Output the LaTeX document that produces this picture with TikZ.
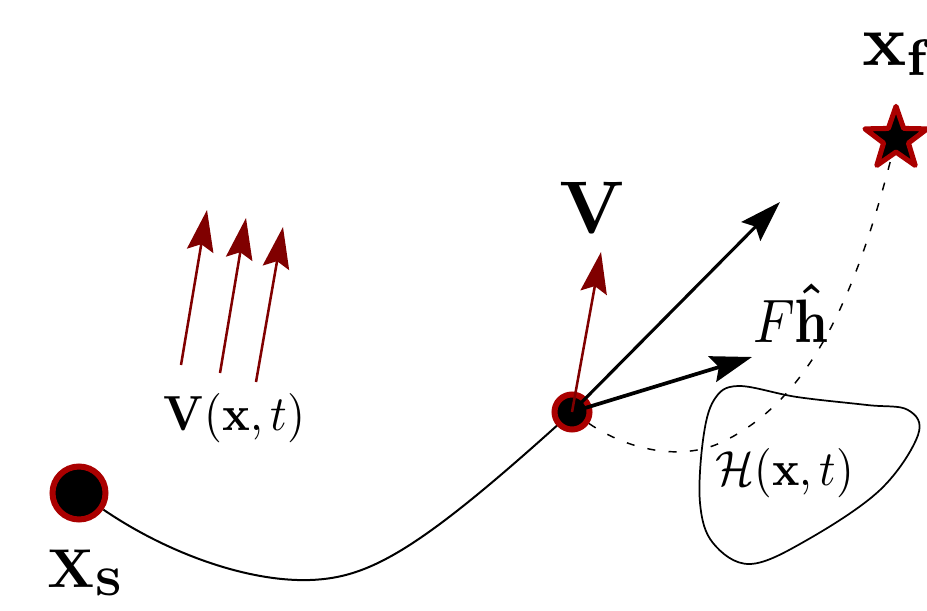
\documentclass[tikz,border=0pt]{standalone}
\usetikzlibrary{arrows.meta,shapes.geometric,backgrounds}
\definecolor{ringred}{RGB}{170,0,0}
\definecolor{vecred}{RGB}{128,0,0}
\begin{document}
\begin{tikzpicture}[x=0.75pt,y=-0.75pt,
  dot/.style={circle,fill=black,draw=ringred,line width=4.5pt,inner sep=0pt},
  goal/.style={star,star points=5,star point ratio=2.5,fill=black,draw=ringred,line width=3.8pt,line join=round,inner sep=0pt,minimum size=49pt},
  headtip/.style={-{Stealth[length=31pt,width=20pt,inset=5pt]}},
  blackvec/.style={headtip,line width=2.3pt},
  redvec/.style={headtip,draw=vecred,line width=1.9pt},
  lbl/.style={inner sep=0pt,anchor=base west},
  trajline/.style={line width=1.5pt},
  dashline/.style={line width=1.1pt,dash pattern=on 6pt off 10pt},
  blob/.style={line width=1.3pt}
]
\useasboundingbox (0,0) rectangle (927,610);
\node[dot,minimum size=39.75pt] (s) at (79,493) {};
\node[dot,minimum size=26.25pt] (m) at (572,412) {};
\node[goal] (f) at (896,139) {};
\begin{scope}[on background layer]
  \draw[trajline] (s) .. controls (170,555) and (250,582) .. (310,580)
     .. controls (370,578) and (420,550) .. (m.center);
  \draw[dashline] (m) .. controls (628,450) and (680,461) .. (720,443)
     .. controls (819,398) and (863,272) .. (f.center);
\end{scope}
\draw[blob] plot[smooth cycle, tension=0.6] coordinates {(700,503) (703,440) (714,400) (738,386) (797,397) (867,405) (908,410) (918,435) (880,490) (807,540) (750,564) (713,543)};
\coordinate (t1) at (780,202);
\coordinate (t2) at (752,357);
\coordinate (t3) at (601,252);
\draw[blackvec] (m.center) -- (t1);
\draw[blackvec,line width=2.8pt] (m.center) -- (t2);
\draw[redvec] (m.center) -- (t3);
\coordinate (r1a) at (181,365); \coordinate (r1b) at (207,210);
\coordinate (r2a) at (220,373); \coordinate (r2b) at (246,218);
\coordinate (r3a) at (256,382); \coordinate (r3b) at (283,227);
\draw[redvec] (r1a) -- (r1b);
\draw[redvec] (r2a) -- (r2b);
\draw[redvec] (r3a) -- (r3b);
\node[lbl,xscale=3.45,yscale=3.7] (vlabel) at (163,430) {$\mathbf{V}(\mathbf{x},t)$};
\node[lbl,xscale=3.4,yscale=3.7] (hlabel) at (715,485) {$\mathcal{H}(\mathbf{x},t)$};
\node[lbl,scale=5.6] (vbig) at (558,233) {$\mathbf{V}$};
\node[lbl,xscale=4.0,yscale=4.6] (fh) at (752,342) {$F\mathbf{\hat{h}}$};
\node[lbl,scale=4.1] (xs) at (46,587) {$\mathbf{X_S}$};
\node[lbl,scale=5.5] (xf) at (861,65) {$\mathbf{x_f}$};
\end{tikzpicture}
\end{document}
